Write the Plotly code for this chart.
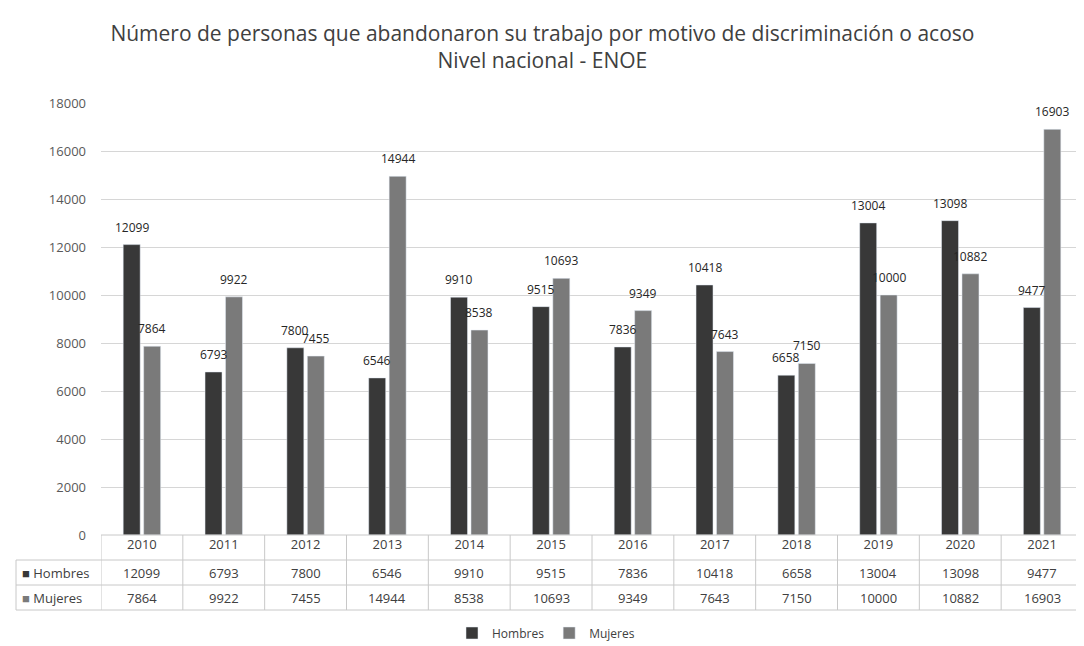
import plotly.graph_objects as go

years = ["2010", "2011", "2012", "2013", "2014", "2015", "2016", "2017", "2018", "2019", "2020", "2021"]
hombres = [12099, 6793, 7800, 6546, 9910, 9515, 7836, 10418, 6658, 13004, 13098, 9477]
mujeres = [7864, 9922, 7455, 14944, 8538, 10693, 9349, 7643, 7150, 10000, 10882, 16903]
y_ticks = [0, 2000, 4000, 6000, 8000, 10000, 12000, 14000, 16000, 18000]

C_H = "#383838"
C_M = "#7a7a7a"
TXT = "#404040"
LINE = "#c8c8c8"
FONT = "Open Sans"

W, H = 1084, 646
L, R, T, B = 93, 9, 95, 119
PW = W - L - R
PH = H - T - B
BARGAP = 0.5


def py(p):
    return (H - B - p) / PH


def px(p):
    return (p - L) / PW


fig = go.Figure()
fig.add_trace(go.Bar(name="Hombres", x=years, y=hombres, marker_color=C_H))
fig.add_trace(go.Bar(name="Mujeres", x=years, y=mujeres, marker_color=C_M))

annotations = []
# value labels above bars (centre of each bar within its group)
half = (1 - BARGAP) / 4
for off, vals in [(-half, hombres), (half, mujeres)]:
    for i, v in enumerate(vals):
        annotations.append(dict(xref="x", yref="y", x=i + off, y=v, xanchor="center",
                                yanchor="bottom", yshift=7, showarrow=False, text=str(v),
                                font=dict(family=FONT, size=12, color="#262626")))

shapes = []
# table horizontal lines
row_tops = [527, 552, 577, 602]
for i, yy in enumerate(row_tops):
    x0 = 0 if i == 0 else px(8)
    shapes.append(dict(type="line", xref="paper", yref="paper", x0=x0, x1=1,
                       y0=py(yy), y1=py(yy), line=dict(color=LINE, width=1)))
# vertical lines at category boundaries
for i in range(len(years) + 1):
    shapes.append(dict(type="line", xref="x", yref="paper", x0=i - 0.5, x1=i - 0.5,
                       y0=py(527), y1=py(602), line=dict(color=LINE, width=1)))
shapes.append(dict(type="line", xref="paper", yref="paper", x0=px(8), x1=px(8),
                   y0=py(552), y1=py(602), line=dict(color=LINE, width=1)))

for r, (name, vals, col) in enumerate([("Hombres", hombres, C_H), ("Mujeres", mujeres, C_M)]):
    yc = py(564.5 + 25 * r)
    annotations.append(dict(xref="paper", yref="paper", x=px(12), y=yc, xanchor="left",
                            yanchor="middle", showarrow=False,
                            text=f'<span style="color:{col}">■</span> {name}',
                            font=dict(family=FONT, size=13, color=TXT)))
    for i, v in enumerate(vals):
        annotations.append(dict(xref="x", yref="paper", x=i, y=yc, xanchor="center",
                                yanchor="middle", showarrow=False, text=str(v),
                                font=dict(family=FONT, size=13, color=TXT)))

fig.update_layout(
    width=W, height=H,
    margin=dict(l=L, r=R, t=T, b=B, autoexpand=False),
    paper_bgcolor="white", plot_bgcolor="white",
    barmode="group", bargap=BARGAP, bargroupgap=0.17,
    title=dict(text="Número de personas que abandonaron su trabajo por motivo de discriminación o acoso<br>Nivel nacional - ENOE",
               x=0.493, xanchor="center", y=1 - 33 / H, yanchor="middle",
               font=dict(family=FONT, size=21, color=TXT)),
    xaxis=dict(type="category", range=[-0.5, len(years) - 0.5], showgrid=False,
               automargin=False, showline=False, ticks="",
               tickfont=dict(family=FONT, size=13, color=TXT)),
    yaxis=dict(range=[0, 18000], tickvals=y_ticks, ticktext=[str(v) for v in y_ticks],
               showgrid=True, gridcolor="#d6d6d6", automargin=False,
               gridwidth=1, zeroline=False, showline=False, ticks="",
               ticklabelstandoff=14,
               tickfont=dict(family=FONT, size=13, color="#595959")),
    legend=dict(orientation="h", x=px(538), xanchor="center", y=py(625), yanchor="middle",
                font=dict(family=FONT, size=12, color=TXT), itemwidth=30, traceorder="normal"),
    shapes=shapes, annotations=annotations,
)

fig.write_html("out.html")
